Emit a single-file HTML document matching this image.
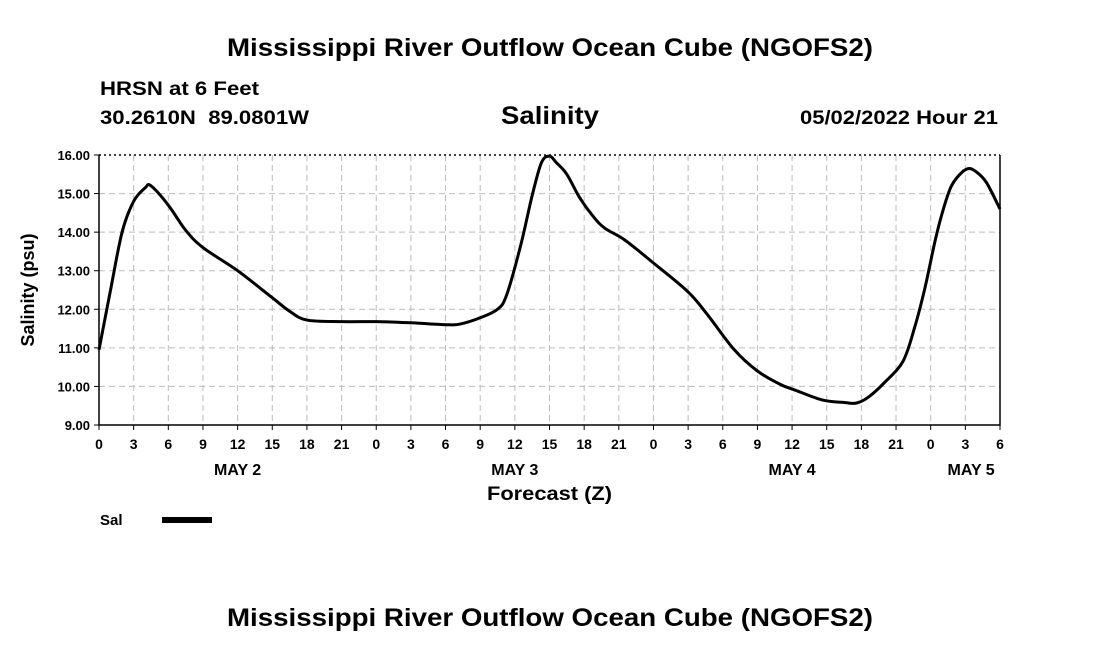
<!DOCTYPE html>
<html><head><meta charset="utf-8"><style>
body{margin:0;background:#fff;width:1100px;height:650px;overflow:hidden;font-family:"Liberation Sans",sans-serif;}
svg text{font-family:"Liberation Sans",sans-serif;font-weight:bold;fill:#000;}
</style></head><body>
<svg id="chart" width="1100" height="650" xmlns="http://www.w3.org/2000/svg">
<text x="227" y="56" font-size="25" textLength="646" lengthAdjust="spacingAndGlyphs">Mississippi River Outflow Ocean Cube (NGOFS2)</text>
<text x="100" y="95" font-size="19" textLength="159" lengthAdjust="spacingAndGlyphs">HRSN at 6 Feet</text>
<text x="100" y="124" font-size="19" textLength="209" lengthAdjust="spacingAndGlyphs" xml:space="preserve">30.2610N  89.0801W</text>
<text x="501" y="124" font-size="25" textLength="98" lengthAdjust="spacingAndGlyphs">Salinity</text>
<text x="800" y="124" font-size="19" textLength="198" lengthAdjust="spacingAndGlyphs">05/02/2022 Hour 21</text>
<g id="grid"></g>
<g id="axes"></g>
<path id="line" fill="none" stroke="#000" stroke-width="3" stroke-linejoin="round"/>
<text transform="translate(34,290) rotate(-90)" font-size="18" text-anchor="middle">Salinity (psu)</text>
<text x="487" y="500" font-size="19" textLength="125" lengthAdjust="spacingAndGlyphs">Forecast (Z)</text>
<text x="100" y="525" font-size="15">Sal</text>
<rect x="162" y="517" width="50" height="6" fill="#000"/>
<text x="227" y="626" font-size="25" textLength="646" lengthAdjust="spacingAndGlyphs">Mississippi River Outflow Ocean Cube (NGOFS2)</text>
</svg>
<script>
const hours=[0,1,2,3,4,4.5,6,7.5,9,12,15,16.5,18,21,24,27,30,31.3,33,34.5,35.3,36.5,37.5,38.3,39,39.6,40.5,41.6,42.8,43.8,45.5,48,51,52.7,55,57,59,60.3,62.6,64.6,65.6,66.6,68,69.6,70.6,71.5,72.4,73.1,73.8,74.7,75.4,76.2,76.9,78];
const salinity=[10.95,12.5,14.0,14.8,15.15,15.2,14.7,14.05,13.6,13.0,12.3,11.95,11.72,11.68,11.68,11.65,11.6,11.62,11.78,12.0,12.38,13.65,14.95,15.8,15.97,15.8,15.5,14.9,14.4,14.1,13.8,13.2,12.45,11.85,10.95,10.4,10.05,9.9,9.65,9.58,9.57,9.72,10.1,10.65,11.52,12.55,13.8,14.6,15.2,15.55,15.65,15.5,15.25,14.6];
const yTicks=[9,10,11,12,13,14,15,16];
const xTickLabels=["0","3","6","9","12","15","18","21","0","3","6","9","12","15","18","21","0","3","6","9","12","15","18","21","0","3","6"];
const dayLabels=["MAY 2","MAY 3","MAY 4","MAY 5"];
const dayHours=[12,36,60,75.5];
const X0=99,X1=1000,Y0=425,Y1=155,HMAX=78,YMIN=9,YMAX=16;
const sx=h=>X0+(X1-X0)*h/HMAX, sy=v=>Y0-(Y0-Y1)*(v-YMIN)/(YMAX-YMIN);
const NS="http://www.w3.org/2000/svg";
const gridG=document.getElementById('grid'),axesG=document.getElementById('axes');
function mk(tag,attrs,parent){const e=document.createElementNS(NS,tag);for(const k in attrs)e.setAttribute(k,attrs[k]);parent.appendChild(e);return e;}
yTicks.forEach(v=>{
 const y=sy(v);
 if(v<YMAX&&v>YMIN){const g=mk('line',{x1:X0,x2:X1,y1:y,y2:y,stroke:'#bbb','stroke-dasharray':'6,4'},gridG);
 
 }
 const t=mk('text',{x:90,y:y+5,'font-size':13,'text-anchor':'end'},axesG);t.textContent=v.toFixed(2);
 
 
 const tk=mk('line',{x1:X0-5,x2:X0,y1:y,y2:y,stroke:'#000'},axesG);
 
 
});
xTickLabels.forEach((lab,i)=>{
 const h=i*3,x=sx(h);
 if(i>0&&i<xTickLabels.length-1){const g=mk('line',{x1:x,x2:x,y1:Y1,y2:Y0,stroke:'#bbb','stroke-dasharray':'6,4'},gridG);
 
 }
 const tk=mk('line',{x1:x,x2:x,y1:Y0,y2:Y0+5,stroke:'#000'},axesG);
 
 
 const t=mk('text',{x:x,y:449,'font-size':14,'text-anchor':'middle'},axesG);t.textContent=lab;
 
 
});
dayLabels.forEach((d,i)=>{
 const t=mk('text',{x:sx(dayHours[i]),y:475,'font-size':16,'text-anchor':'middle'},axesG);t.textContent=d;
 
 
});
const frame=mk('path',{d:`M${X0},${Y1}V${Y0}H${X1}V${Y1}`,fill:'none',stroke:'#000','stroke-width':1.5},axesG);


const topBorder=mk('line',{x1:X0,x2:X1,y1:Y1,y2:Y1,stroke:'#000','stroke-width':1.5,'stroke-dasharray':'2,3'},axesG);


const pts=hours.map((h,i)=>[sx(h),sy(salinity[i])]);
let d=`M${pts[0][0]},${pts[0][1]}`;
for(let i=0;i<pts.length-1;i++){
 const p0=pts[Math.max(0,i-1)],p1=pts[i],p2=pts[i+1],p3=pts[Math.min(pts.length-1,i+2)];
 const c1=[p1[0]+(p2[0]-p0[0])/6,p1[1]+(p2[1]-p0[1])/6],c2=[p2[0]-(p3[0]-p1[0])/6,p2[1]-(p3[1]-p1[1])/6];
 d+=`C${c1[0]},${c1[1]} ${c2[0]},${c2[1]} ${p2[0]},${p2[1]}`;
}
document.getElementById('line').setAttribute('d',d);
</script>
</body></html>
